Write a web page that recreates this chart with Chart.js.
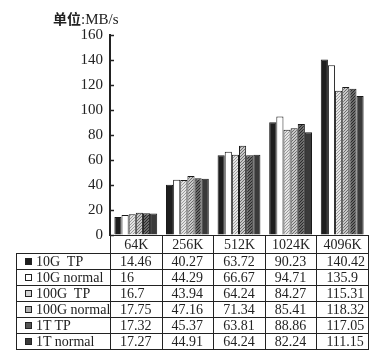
<!DOCTYPE html>
<html><head><meta charset="utf-8">
<script src="https://cdn.jsdelivr.net/npm/chart.js@4/dist/chart.umd.min.js"></script>
<style>
html,body{margin:0;padding:0;background:#fff;}
#wrap{position:relative;width:380px;height:360px;overflow:hidden;background:#fff;}
#c{position:absolute;left:0;top:0;}
#unit{position:absolute;left:53px;top:8px;font:15px "Liberation Serif",serif;color:#222;white-space:nowrap;}
#unit .cjk{font-family:"Noto Sans CJK SC",sans-serif;font-weight:bold;font-size:14px;}
#tbl{position:absolute;left:16px;top:235px;border-collapse:collapse;table-layout:fixed;font:14px "Liberation Serif",serif;color:#222;}
#tbl td{border:1.5px solid #222;padding:0;white-space:nowrap;overflow:hidden;line-height:15px;height:15px;vertical-align:bottom;}
#tbl td.v{padding-left:9px;}
#tbl tr.hd td{height:17px;text-align:center;vertical-align:middle;}
#tbl tr.hd td.blank{border-left:none;border-top:none;border-bottom:1.5px solid #222;}
#tbl td.lg{padding-left:8px;}
.mk{display:inline-block;width:5px;height:5px;border:1px solid #222;margin-right:4px;vertical-align:1px;}
</style></head>
<body><div id="wrap"><canvas id="c" width="380" height="360"></canvas>
<div id="unit"><span class="cjk">单位</span>:MB/s</div>
<table id="tbl"></table></div>
<script>
const categories = ['64K', '256K', '512K', '1024K', '4096K'];
const seriesNames = ['10G\u00a0 TP', '10G normal', '100G\u00a0 TP', '100G normal', '1T TP', '1T normal'];
const g10TP = [14.46, 40.27, 63.72, 90.23, 140.42];
const g10Normal = [16, 44.29, 66.67, 94.71, 135.9];
const g100TP = [16.7, 43.94, 64.24, 84.27, 115.31];
const g100Normal = [17.75, 47.16, 71.34, 85.41, 118.32];
const t1TP = [17.32, 45.37, 63.81, 88.86, 117.05];
const t1Normal = [17.27, 44.91, 64.24, 82.24, 111.15];
const yTicks = [0, 20, 40, 60, 80, 100, 120, 140, 160];

const seriesValues = [g10TP, g10Normal, g100TP, g100Normal, t1TP, t1Normal];

function dotPattern(bg, fg) {
  const c = document.createElement('canvas');
  c.width = 3; c.height = 3;
  const x = c.getContext('2d');
  x.fillStyle = bg; x.fillRect(0, 0, 3, 3);
  x.fillStyle = fg; x.fillRect(0, 0, 1, 1); x.fillRect(2, 1, 1, 1); x.fillRect(1, 2, 1, 1);
  return x.createPattern(c, 'repeat');
}
const fills = [
  '#1e1e1e',
  '#ffffff',
  dotPattern('#e4e4e4', '#9a9a9a'),
  dotPattern('#c8c8c8', '#6e6e6e'),
  dotPattern('#6a6a6a', '#2a2a2a'),
  '#3a3a3a'
];
const markerFills = ['#1e1e1e', '#ffffff', '#d4d4d4', '#b0b0b0', '#555', '#3a3a3a'];

const inwardTicks = {
  id: 'inwardTicks',
  afterDraw(chart) {
    const s = chart.scales.y, ctx = chart.ctx;
    ctx.save();
    ctx.strokeStyle = '#222'; ctx.lineWidth = 1.5;
    s.ticks.forEach(t => {
      const y = Math.round(s.getPixelForValue(t.value)) + 0.5;
      ctx.beginPath(); ctx.moveTo(s.right, y); ctx.lineTo(s.right + 4, y); ctx.stroke();
    });
    ctx.restore();
  }
};

new Chart(document.getElementById('c'), {
  type: 'bar',
  data: {
    labels: categories,
    datasets: seriesNames.map((n, i) => ({
      label: n,
      data: seriesValues[i],
      backgroundColor: fills[i],
      borderColor: '#1a1a1a',
      borderWidth: 1,
      borderSkipped: 'bottom',
      categoryPercentage: 0.83,
      barPercentage: 1.0
    }))
  },
  options: {
    responsive: false,
    animation: false,
    layout: { padding: { left: 0, right: 12, top: 35, bottom: 125 } },
    plugins: { legend: { display: false }, tooltip: { enabled: false }, title: { display: false } },
    scales: {
      x: { display: false },
      y: {
        min: 0, max: 160,
        afterBuildTicks: s => { s.ticks = yTicks.map(v => ({ value: v })); },
        afterFit: s => { s.width = 110; },
        border: { display: true, color: '#222', width: 2 },
        grid: { drawOnChartArea: false, drawTicks: false },
        ticks: { color: '#222', padding: 7, font: { family: 'Liberation Serif', size: 15 } }
      }
    }
  },
  plugins: [inwardTicks]
});

// table built from the same arrays
const tbl = document.getElementById('tbl');
const colW = (368 - 110) / categories.length;
let html = '<colgroup><col style="width:94px">' + categories.map(() => '<col style="width:' + colW + 'px">').join('') + '</colgroup>';
html += '<tr class="hd"><td class="blank"></td>' + categories.map(c => '<td>' + c + '</td>').join('') + '</tr>';
seriesNames.forEach((n, i) => {
  html += '<tr><td class="lg"><span class="mk" style="background:' + markerFills[i] + '"></span>' + n + '</td>' +
    seriesValues[i].map(v => '<td class="v">' + v + '</td>').join('') + '</tr>';
});
tbl.innerHTML = html;
tbl.style.width = (368 - 16) + 'px';
</script>
</body></html>
